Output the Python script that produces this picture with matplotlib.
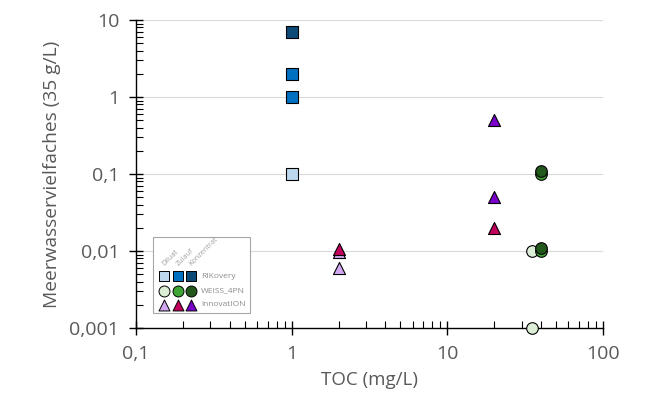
import matplotlib
matplotlib.use("Agg")
import matplotlib.pyplot as plt
from matplotlib.ticker import LogLocator, FixedLocator, FixedFormatter, NullFormatter
from matplotlib.patches import Rectangle

plt.rcParams['font.family'] = ['Open Sans', 'DejaVu Sans']

# --- data ---
rik_dil_x = [1];        rik_dil_y = [0.1]
rik_zul_x = [1, 1];     rik_zul_y = [1.0, 2.0]
rik_kon_x = [1];        rik_kon_y = [7.0]

weiss_dil_x = [35, 35]; weiss_dil_y = [0.01, 0.001]
weiss_zul_x = [40, 40]; weiss_zul_y = [0.1, 0.01]
weiss_kon_x = [40, 40]; weiss_kon_y = [0.11, 0.011]

inno_dil_x = [2, 2];    inno_dil_y = [0.006, 0.0097]
inno_zul_x = [2, 20];   inno_zul_y = [0.0105, 0.02]
inno_kon_x = [20, 20];  inno_kon_y = [0.5, 0.05]

series_names = ["RIKovery", "WEISS_4PN", "innovatION"]
column_names = ["Diluat", "Zulauf", "Konzentrat"]

colors = {
    "RIKovery": ["#bdd7ee", "#0070c0", "#0d4a78"],
    "WEISS_4PN": ["#dcefd6", "#3ea534", "#23581c"],
    "innovatION": ["#d3a8f2", "#c0005c", "#7a00cc"],
}
markers = {"RIKovery": "s", "WEISS_4PN": "o", "innovatION": "^"}

data = {
    "RIKovery": [(rik_dil_x, rik_dil_y), (rik_zul_x, rik_zul_y), (rik_kon_x, rik_kon_y)],
    "WEISS_4PN": [(weiss_dil_x, weiss_dil_y), (weiss_zul_x, weiss_zul_y), (weiss_kon_x, weiss_kon_y)],
    "innovatION": [(inno_dil_x, inno_dil_y), (inno_zul_x, inno_zul_y), (inno_kon_x, inno_kon_y)],
}

text_col = "#595959"

fig = plt.figure(figsize=(6.5, 3.95), dpi=100)
ax = fig.add_axes([136/650, 1-328/395, (603-136)/650, (328-20)/395])

ax.set_xscale("log")
ax.set_yscale("log")
ax.set_xlim(0.1, 100)
ax.set_ylim(0.001, 10)

for yv in [0.01, 0.1, 1, 10]:
    ax.axhline(yv, color="#d9d9d9", lw=0.8, zorder=0)

z = 3
for name in series_names:
    for i, (xs, ys) in enumerate(data[name]):
        ax.scatter(xs, ys, s=70 if markers[name] != "^" else 75, marker=markers[name],
                   c=colors[name][i], edgecolors="black", linewidths=0.8,
                   zorder=z, clip_on=False)
        z += 1

for s in ["top", "right"]:
    ax.spines[s].set_visible(False)
ax.spines["left"].set_linewidth(1.0)
ax.spines["bottom"].set_linewidth(1.0)

ax.xaxis.set_major_locator(FixedLocator([0.1, 1, 10, 100]))
ax.xaxis.set_major_formatter(FixedFormatter(["0,1", "1", "10", "100"]))
ax.xaxis.set_minor_locator(LogLocator(base=10, subs=range(2, 10)))
ax.xaxis.set_minor_formatter(NullFormatter())
ax.yaxis.set_major_locator(FixedLocator([0.001, 0.01, 0.1, 1, 10]))
ax.yaxis.set_major_formatter(FixedFormatter(["0,001", "0,01", "0,1", "1", "10"]))
ax.yaxis.set_minor_locator(LogLocator(base=10, subs=range(2, 10)))
ax.yaxis.set_minor_formatter(NullFormatter())

ax.tick_params(which="major", direction="inout", length=10, width=1.0,
               labelsize=14, labelcolor=text_col, pad=7)
ax.tick_params(which="minor", direction="in", length=5, width=0.8)

ax.set_xlabel("TOC (mg/L)", fontsize=13.5, color=text_col, labelpad=6)
ax.set_ylabel("Meerwasservielfaches (35 g/L)", fontsize=13.8, color=text_col, labelpad=6)

# --- legend (manual, axes coordinates) ---
def ax_x(px):
    return (px - 136) / (603 - 136)

def ax_y(py):
    return (328 - py) / (328 - 20)

ax.add_patch(Rectangle((ax_x(153), ax_y(313)), ax_x(250) - ax_x(153), ax_y(237) - ax_y(313),
                       transform=ax.transAxes, facecolor="white", edgecolor="#a6a6a6",
                       lw=0.8, zorder=20, clip_on=False))
col_px = [164, 178, 191]
row_py = [276, 291, 305]
for j, cn in enumerate(column_names):
    ax.text(ax_x(col_px[j] + 2), ax_y(267), cn, transform=ax.transAxes, rotation=45,
            fontsize=5.2, color="#a0a0a0", ha="left", va="bottom", zorder=22,
            rotation_mode="anchor")
for r, name in enumerate(series_names):
    for j in range(3):
        ax.scatter([ax_x(col_px[j])], [ax_y(row_py[r])], transform=ax.transAxes,
                   s=62, marker=markers[name], c=colors[name][j], edgecolors="black",
                   linewidths=0.7, zorder=22, clip_on=False)
    ax.text(ax_x(201), ax_y(row_py[r]), name, transform=ax.transAxes, fontsize=6,
            color="#8c8c8c", ha="left", va="center", zorder=22)

fig.savefig("out.png", dpi=100)
